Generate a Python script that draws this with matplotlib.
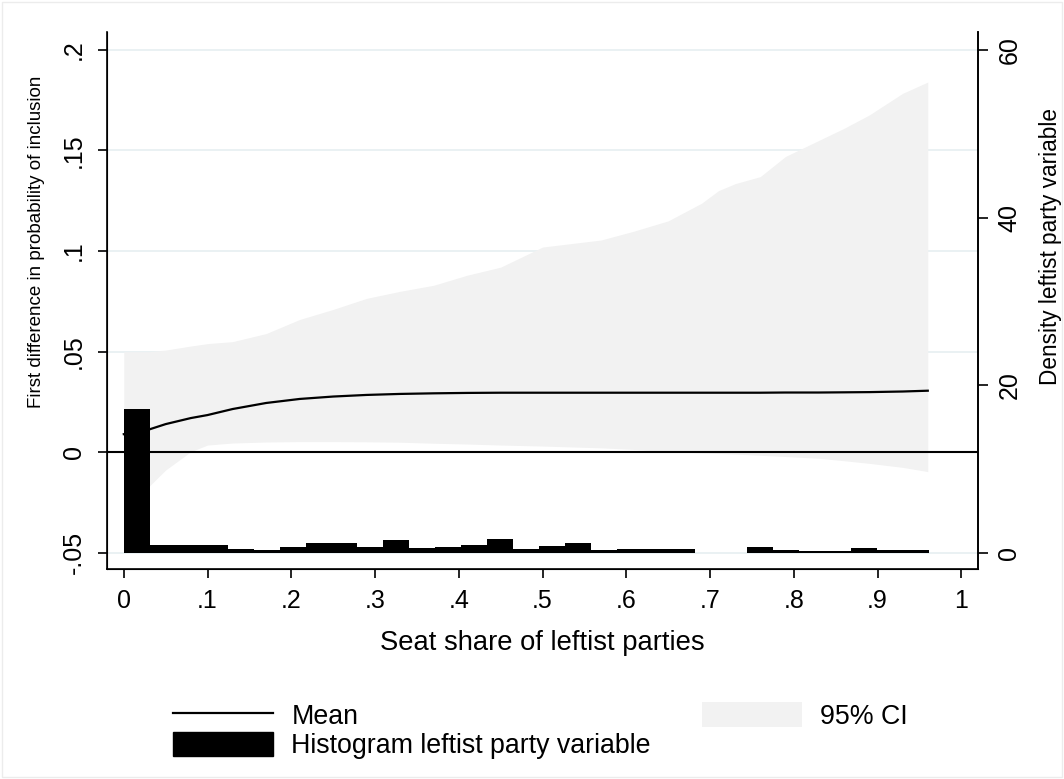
import numpy as np
import matplotlib
matplotlib.use("Agg")
import matplotlib.pyplot as plt
from matplotlib.lines import Line2D
from matplotlib.patches import Patch, Rectangle

plt.rcParams["font.family"] = ["Liberation Sans", "DejaVu Sans"]

# curves: seat share vs first difference (mean and 95% CI)
seat = [0, 0.03, 0.05, 0.08, 0.10, 0.13, 0.17, 0.21, 0.25, 0.29, 0.33, 0.37, 0.41, 0.45, 0.49,
        0.50, 0.53, 0.57, 0.61, 0.65, 0.69, 0.71, 0.73, 0.76, 0.79, 0.83, 0.86, 0.89, 0.93, 0.96]
mean = [0.0090, 0.0113, 0.0140, 0.0170, 0.0185, 0.0215, 0.0245, 0.0265, 0.0277, 0.0285, 0.0290,
        0.0293, 0.0295, 0.0296, 0.0296, 0.0296, 0.0296, 0.0296, 0.0296, 0.0296, 0.0296, 0.0296,
        0.0296, 0.0296, 0.0297, 0.0297, 0.0298, 0.0299, 0.0302, 0.0306]
ci_up = [0.050, 0.050, 0.0508, 0.0528, 0.054, 0.055, 0.059, 0.066, 0.071, 0.0765, 0.080, 0.083,
         0.088, 0.092, 0.100, 0.102, 0.1035, 0.1055, 0.110, 0.115, 0.1238, 0.130, 0.1335, 0.137,
         0.147, 0.155, 0.161, 0.1676, 0.1784, 0.184]
ci_lo = [-0.020, -0.017, -0.0088, 0.0003, 0.0036, 0.0046, 0.0051, 0.0053, 0.0053, 0.0052, 0.0050,
         0.0045, 0.0041, 0.0036, 0.0032, 0.0031, 0.0027, 0.0022, 0.0014, 0.0003, -0.0003, -0.0006,
         -0.0009, -0.0015, -0.0021, -0.0030, -0.0042, -0.0055, -0.0075, -0.0096]

# histogram of leftist seat share (density), 31 bins of width 0.031
bin_w = 0.031
density = [17.2, 1.0, 1.0, 1.0, 0.52, 0.4, 0.67, 1.15, 1.15, 0.67, 1.59, 0.6, 0.67, 0.91, 1.71,
           0.52, 0.83, 1.15, 0.32, 0.52, 0.52, 0.5, 0, 0, 0.71, 0.4, 0.28, 0.28, 0.56, 0.32, 0.4]
bin_left = np.arange(len(density)) * bin_w

xticks = [0, .1, .2, .3, .4, .5, .6, .7, .8, .9, 1]
xlabels = ["0", ".1", ".2", ".3", ".4", ".5", ".6", ".7", ".8", ".9", "1"]
yticks = [-.05, 0, .05, .1, .15, .2]
ylabels = ["-.05", "0", ".05", ".1", ".15", ".2"]
y2ticks = [0, 20, 40, 60]

fig = plt.figure(figsize=(10.64, 7.79), dpi=100)
fig.add_artist(Rectangle((0.002, 0.002), 0.996, 0.996, transform=fig.transFigure,
                         fill=False, edgecolor="#ececec", lw=1))
ax = fig.add_axes([0.1006, 0.2696, 0.8186, 0.6894])

ax.set_xlim(-0.02, 1.02)
ax.set_ylim(-0.058, 0.2089)
ax.set_yticks(yticks)
ax.set_yticklabels(ylabels)
ax.set_xticks(xticks)
ax.set_xticklabels(xlabels)
ax.grid(axis="y", color="#e8f0f2", lw=1.3, zorder=0)
ax.set_axisbelow(True)

ax.fill_between(seat, ci_lo, ci_up, color="#f2f2f2", lw=0, zorder=1)
ax.axhline(0, color="black", lw=1.5, zorder=2)
ax.plot(seat, mean, color="black", lw=1.6, zorder=3)

ax.spines["top"].set_visible(False)
for s in ["left", "bottom", "right"]:
    ax.spines[s].set_linewidth(1.2)
ax.tick_params(axis="both", direction="out", length=6.5, width=1.2, labelsize=18)
ax.tick_params(axis="x", pad=8)
ax.tick_params(axis="y", pad=9)
for lab in ax.get_yticklabels():
    lab.set_rotation(90)
    lab.set_va("center")

ax.set_xlabel("Seat share of leftist parties", fontsize=19.7, labelpad=12)
ax.set_ylabel("First difference in probability of inclusion", fontsize=13.5)
ax.yaxis.set_label_coords(-0.071, 0.61)

ax2 = ax.twinx()
ax2.set_ylim((-0.058 + 0.05) * 240, (0.2089 + 0.05) * 240)
ax2.bar(bin_left, density, width=bin_w, align="edge", color="black", lw=0, zorder=4)
ax2.set_yticks(y2ticks)
ax2.spines["top"].set_visible(False)
ax2.spines["right"].set_linewidth(1.2)
ax2.tick_params(axis="y", direction="out", length=7, width=1.2, labelsize=18, pad=7)
for lab in ax2.get_yticklabels():
    lab.set_rotation(90)
    lab.set_va("center")
ax2.set_ylabel("Density leftist party variable", fontsize=16.3)
ax2.yaxis.set_label_coords(1.07, 0.6)

handles = [Line2D([], [], color="black", lw=1.6),
           Patch(facecolor="black", edgecolor="black"),
           Patch(facecolor="#f2f2f2", edgecolor="none")]
labels = ["Mean", "Histogram leftist party variable", "95% CI"]
fig.legend(handles, labels, ncol=2, loc="center", bbox_to_anchor=(0.508, 0.062),
           frameon=False, fontsize=19.3, handlelength=3.73, handleheight=1.05,
           handletextpad=0.67, columnspacing=1.9, labelspacing=0.06)

fig.savefig("out.png", dpi=100, facecolor="white")
